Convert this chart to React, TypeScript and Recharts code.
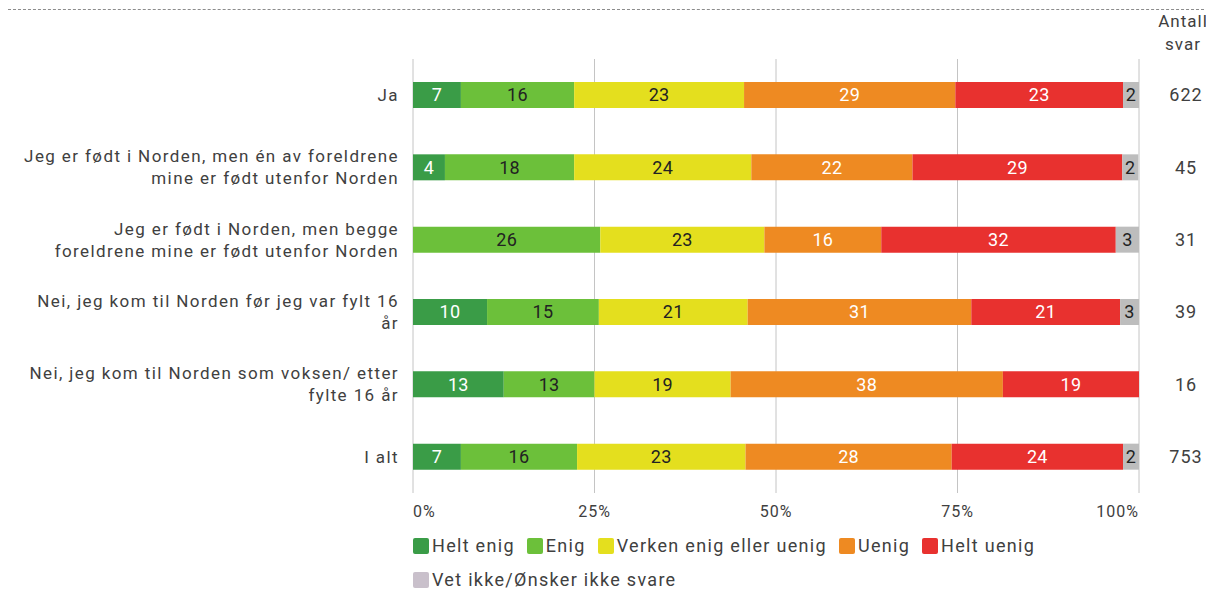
import React from 'react';
import { BarChart, Bar, XAxis, YAxis, CartesianGrid, LabelList } from 'recharts';

// Svarkategorier (rader) og antall svar
const categories = [
  'Ja',
  'Jeg er født i Norden, men én av foreldrene\nmine er født utenfor Norden',
  'Jeg er født i Norden, men begge\nforeldrene mine er født utenfor Norden',
  'Nei, jeg kom til Norden før jeg var fylt 16\når',
  'Nei, jeg kom til Norden som voksen/ etter\nfylte 16 år',
  'I alt',
];
const counts = [622, 45, 31, 39, 16, 753];

// Andeler i prosent, lest av figuren
const heltEnig = [6.6, 4.4, 0, 10.2, 12.5, 6.6];
const enig = [15.6, 17.8, 25.8, 15.4, 12.5, 16.0];
const verken = [23.4, 24.4, 22.6, 20.5, 18.75, 23.2];
const uenig = [29.1, 22.2, 16.1, 30.8, 37.5, 28.4];
const heltUenig = [23.1, 28.9, 32.3, 20.5, 18.75, 23.6];
const vetIkke = [2.2, 2.2, 3.2, 2.6, 0, 2.2];

const xTicks = [0, 25, 50, 75, 100];

const series = [
  { key: 'heltEnig', name: 'Helt enig', color: '#3a9c47', legend: '#3a9c47', text: '#ffffff', values: heltEnig },
  { key: 'enig', name: 'Enig', color: '#6cc03a', legend: '#6cc03a', text: '#222222', values: enig },
  { key: 'verken', name: 'Verken enig eller uenig', color: '#e4df1e', legend: '#e4df1e', text: '#222222', values: verken },
  { key: 'uenig', name: 'Uenig', color: '#ee8a22', legend: '#ee8a22', text: '#ffffff', values: uenig },
  { key: 'heltUenig', name: 'Helt uenig', color: '#e8312f', legend: '#e8312f', text: '#ffffff', values: heltUenig },
  { key: 'vetIkke', name: 'Vet ikke/Ønsker ikke svare', color: '#bdbdbd', legend: '#c9c0cb', text: '#222222', values: vetIkke },
];

const data = categories.map((name, i) => {
  const row: Record<string, string | number> = { name, n: counts[i] };
  series.forEach((s) => {
    row[s.key] = s.values[i];
  });
  return row;
});

const FONT = 'Roboto, sans-serif';
const TEXT = '#404040';

const CategoryTick = (props: any) => {
  const { x, y, payload } = props;
  const lines = String(payload.value).split('\n');
  const lh = 22;
  const start = y - ((lines.length - 1) * lh) / 2;
  return (
    <text textAnchor="end" fontFamily={FONT} fontSize={17} fill={TEXT} letterSpacing="1.4px">
      {lines.map((l, i) => (
        <tspan key={i} x={x} y={start + i * lh} dy="0.35em">
          {l}
        </tspan>
      ))}
    </text>
  );
};

const CountTick = (props: any) => {
  const { x, y, payload } = props;
  return (
    <text x={x + 47} y={y} dy="0.35em" textAnchor="middle" fontFamily={FONT} fontSize={18} fill={TEXT} letterSpacing="1px">
      {payload.value}
    </text>
  );
};

const PercentTick = (props: any) => {
  const { x, y, payload, index } = props;
  const anchor = index === 0 ? 'start' : index === xTicks.length - 1 ? 'end' : 'middle';
  return (
    <text x={x} y={y} dy="0.71em" textAnchor={anchor} fontFamily={FONT} fontSize={16} fill={TEXT} letterSpacing="1px">
      {`${payload.value}%`}
    </text>
  );
};

const makeLabel = (color: string) => (props: any) => {
  const { x, y, width, height, value } = props;
  if (!value) return null;
  return (
    <text
      x={x + width / 2}
      y={y + height / 2}
      dy="0.36em"
      textAnchor="middle"
      fontFamily={FONT}
      fontSize={18}
      fill={color}
      letterSpacing="0.3px"
    >
      {Math.round(value)}
    </text>
  );
};

const LegendItem = ({ color, name }: { color: string; name: string }) => (
  <div style={{ display: 'flex', alignItems: 'center', marginRight: 12 }}>
    <div style={{ width: 16, height: 16, background: color, borderRadius: 2, marginRight: 3 }} />
    <span style={{ fontFamily: FONT, fontSize: 18, color: TEXT, letterSpacing: '1.3px', lineHeight: '20px' }}>{name}</span>
  </div>
);

export default function App() {
  return (
    <div style={{ position: 'relative', width: 1206, height: 583 }}>
      <div style={{ position: 'absolute', top: 1, left: 0, width: 1206, borderTop: '1px dashed #8c8c8c' }} />
      <div
        style={{
          position: 'absolute',
          top: 2,
          left: 1130,
          width: 90,
          textAlign: 'center',
          fontFamily: FONT,
          fontSize: 17,
          lineHeight: '23px',
          color: TEXT,
          letterSpacing: '1px',
        }}
      >
        Antall
        <br />
        svar
      </div>
      <div style={{ position: 'absolute', top: 0, left: 0 }}>
        <BarChart
          width={1198}
          height={522}
          data={data}
          layout="vertical"
          margin={{ top: 51, right: 0, bottom: 0, left: 0 }}
        >
          <CartesianGrid horizontal={false} vertical stroke="#c4c4c4" yAxisId="cat" />
          <XAxis
            type="number"
            domain={[0, 100]}
            ticks={xTicks}
            allowDataOverflow
            axisLine={false}
            tickLine={false}
            tickSize={0}
            tickMargin={13}
            height={37}
            tick={<PercentTick />}
            interval={0}
          />
          <YAxis
            yAxisId="cat"
            type="category"
            dataKey="name"
            width={405}
            axisLine={false}
            tickLine={false}
            tickSize={0}
            tickMargin={14}
            tick={<CategoryTick />}
            interval={0}
          />
          <YAxis
            yAxisId="count"
            orientation="right"
            type="category"
            dataKey="n"
            width={67}
            axisLine={false}
            tickLine={false}
            tickSize={0}
            tickMargin={0}
            tick={<CountTick />}
            interval={0}
          />
          {series.map((s) => (
            <Bar
              key={s.key}
              dataKey={s.key}
              name={s.name}
              stackId="a"
              yAxisId="cat"
              fill={s.color}
              barSize={26}
              isAnimationActive={false}
            >
              <LabelList dataKey={s.key} content={makeLabel(s.text)} />
            </Bar>
          ))}
        </BarChart>
      </div>
      <div style={{ position: 'absolute', top: 528, left: 405 }}>
        <div style={{ display: 'flex' }}>
          {series.slice(0, 5).map((s) => (
            <LegendItem key={s.key} color={s.legend} name={s.name} />
          ))}
        </div>
        <div style={{ display: 'flex', marginTop: 14 }}>
          <LegendItem color={series[5].legend} name={series[5].name} />
        </div>
      </div>
    </div>
  );
}
